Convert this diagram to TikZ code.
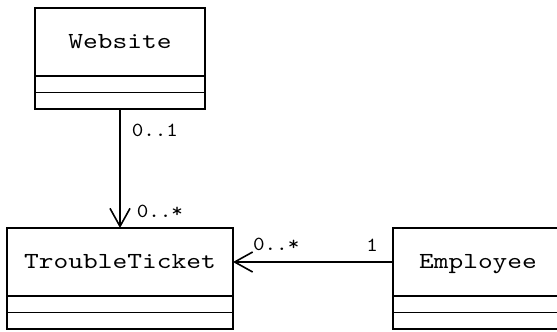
\documentclass[tikz,border=0pt]{standalone}
\usepackage{fontspec}
\newfontfamily\umlfont[FakeStretch=1.22]{lmmono10-regular.otf}
\newfontfamily\multfont[FakeStretch=1.1]{lmmono10-regular.otf}
\usetikzlibrary{positioning,arrows.meta}

\begin{document}
\begin{tikzpicture}[
			x=1pt, y=-1pt,
			classname/.style={draw, line width=1.6pt, minimum height=68pt, inner sep=0pt, outer sep=0pt,
				text height=17pt, text depth=3.6pt, font=\umlfont\fontsize{23}{28}\selectfont},
			compart/.style={draw, line width=1.6pt, minimum height=16.5pt, inner sep=0pt, outer sep=0pt},
			mult/.style={inner sep=0pt, font=\multfont\fontsize{20}{24}\selectfont},
			assoc/.style={-{Straight Barb[length=18pt, width=20pt]}, line width=1.6pt}
			]
			\useasboundingbox (0,0) rectangle (557,332);
			\clip (0,0) rectangle (557,332);
			% classes
			\node[classname, minimum width=170pt] (website) at (120,42) {Website};
			\node[compart, minimum width=170pt, below=0pt of website] (website-attr) {};
			\node[compart, minimum width=170pt, below=0pt of website-attr] (website-ops) {};
			\node[classname, minimum width=226pt] (trouble) at (120,262) {TroubleTicket};
			\node[compart, minimum width=226pt, below=0pt of trouble] (trouble-attr) {};
			\node[compart, minimum width=226pt, below=0pt of trouble-attr] (trouble-ops) {};
			\node[classname, minimum width=170pt] (employee) at (478,262) {Employee};
			\node[compart, minimum width=170pt, below=0pt of employee] (employee-attr) {};
			\node[compart, minimum width=170pt, below=0pt of employee-attr] (employee-ops) {};
			% associations
			\draw[assoc] (website-ops) -- (trouble)
				node[mult, pos=0.18, anchor=west, xshift=11pt] {0..1}
				node[mult, pos=0.86, anchor=west, xshift=16pt] {0..*};
			\draw[assoc] (employee) -- (trouble)
				node[mult, pos=0.13, anchor=south, yshift=10pt] {1}
				node[mult, pos=0.73, anchor=south, yshift=10pt] {0..*};
		\end{tikzpicture}
\end{document}
